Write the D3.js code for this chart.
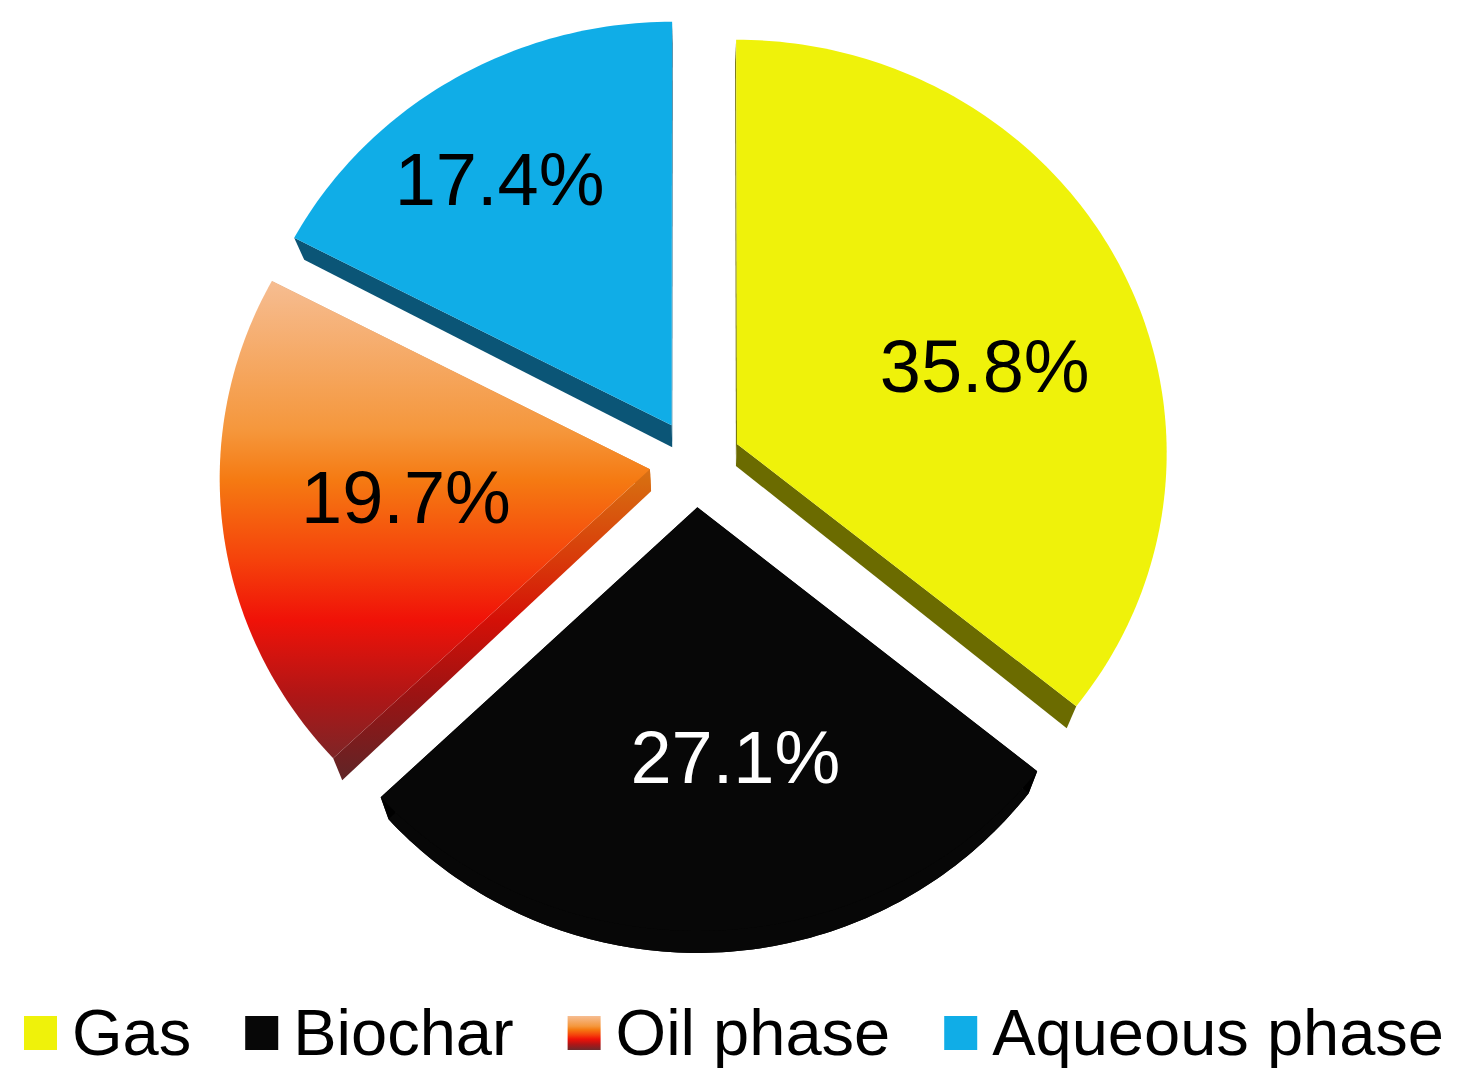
<!DOCTYPE html>
<html>
<head>
<meta charset="utf-8">
<script src="https://cdn.jsdelivr.net/npm/d3@7"></script>
<style>
  body { margin: 0; background: #fff; }
  svg { display: block; }
  text { font-family: "Liberation Sans", Arial, sans-serif; }
</style>
</head>
<body>
<div id="chart"></div>
<script>
// data
const categories = ["Gas", "Biochar", "Oil phase", "Aqueous phase"];
const shares = [35.8, 27.1, 19.7, 17.4];

// styles
const faceFill = ["#eff20a", "#070707", "url(#oilFace)", "#10ade7"];
const sideFill = ["#6b6b00", "#000000", "url(#oilSide)", "#0b5576"];
const showRim = [false, true, false, false];
const labelColor = ["#000", "#fff", "#000", "#000"];
// label placement: radius fraction, angle shift (deg) from slice middle
const labelPolar = [[0.61, 7.3], [0.60, -6], [0.57, 1.6], [0.73, -2.5]];
const oilStops = [
    [0.00, "#f6bd92"], [0.30, "#f5973c"], [0.40, "#f57a12"],
    [0.56, "#f5420b"], [0.68, "#f01208"], [0.83, "#b01616"], [1.00, "#6c2a2c"]
];

const W = 1464, H = 1091;
const cx = 695.5, cy = 463, R = 430;
const k = 0.961, p = 0.0203;          // tilt + slight perspective
const explode = 0.107, depth = 22, shrink = 0.025;

const svg = d3.select("#chart").append("svg")
    .attr("width", W).attr("height", H);

const defs = svg.append("defs");
const faceGrad = defs.append("linearGradient").attr("id", "oilFace")
    .attr("gradientUnits", "userSpaceOnUse")
    .attr("x1", 0).attr("y1", 280).attr("x2", 0).attr("y2", 780);
faceGrad.selectAll("stop").data(oilStops).join("stop")
    .attr("offset", d => d[0]).attr("stop-color", d => d[1]);
const sideGrad = defs.append("linearGradient").attr("id", "oilSide")
    .attr("gradientUnits", "userSpaceOnUse")
    .attr("x1", 0).attr("y1", 280).attr("x2", 0).attr("y2", 780);
sideGrad.selectAll("stop").data(oilStops).join("stop")
    .attr("offset", d => d[0]).attr("stop-color", d => d3.color(d[1]).darker(0.35));
const legGrad = defs.append("linearGradient").attr("id", "oilLegend")
    .attr("x1", 0).attr("y1", 0).attr("x2", 0).attr("y2", 1);
legGrad.selectAll("stop").data(oilStops).join("stop")
    .attr("offset", d => d[0]).attr("stop-color", d => d[1]);

// plane (unit disc) -> screen, t = 0 top face, t = 1 bottom face
function proj(X, Y, t = 0) {
    const w = 1 / (1 - p * Y);
    let x = cx + R * X * w;
    let y = cy + R * k * Y * w;
    x = cx + (x - cx) * (1 - shrink * t);
    y += depth * t;
    return [x, y];
}

const pie = d3.pie().sort(null).value(d => d);
const arcs = pie(shares);
const line = d3.line().curve(d3.curveLinearClosed);

const pieG = svg.append("g").attr("class", "pieG");

arcs.forEach((a, i) => {
    const mid = (a.startAngle + a.endAngle) / 2;
    const ex = explode * Math.sin(mid), ey = -explode * Math.cos(mid);
    const steps = Math.max(8, Math.ceil((a.endAngle - a.startAngle) * 180 / Math.PI));
    const angle = d3.scaleLinear().domain([0, steps]).range([a.startAngle, a.endAngle]);
    const angles = d3.range(steps + 1).map(angle);
    const pt = (ang, r, t) => proj(ex + r * Math.sin(ang), ey - r * Math.cos(ang), t);

    const face = t => [proj(ex, ey, t), ...angles.map(ang => pt(ang, 1, t))];
    const band = angles.map(ang => pt(ang, 1, 0))
        .concat(angles.slice().reverse().map(ang => pt(ang, 1, 1)));
    const quad = ang => [proj(ex, ey, 0), pt(ang, 1, 0), pt(ang, 1, 1), proj(ex, ey, 1)];

    const g = pieG.append("g").attr("class", "slice");
    if (showRim[i]) {
        g.append("path").attr("d", line(face(1))).attr("fill", faceFill[i]);
        g.append("path").attr("d", line(band)).attr("fill", faceFill[i]);
    }
    g.append("path").attr("d", line(quad(a.startAngle))).attr("fill", sideFill[i]);
    g.append("path").attr("d", line(quad(a.endAngle))).attr("fill", sideFill[i]);
    g.append("path").attr("d", line(face(0))).attr("fill", faceFill[i]);
});

// labels
const fmt = d3.format(".1f");
arcs.forEach((a, i) => {
    const mid = (a.startAngle + a.endAngle) / 2;
    const ex = explode * Math.sin(mid), ey = -explode * Math.cos(mid);
    const [lr, shift] = labelPolar[i];
    const ang = mid + shift * Math.PI / 180;
    const [x, y] = proj(ex + lr * Math.sin(ang), ey - lr * Math.cos(ang));
    svg.append("text")
        .attr("x", x).attr("y", y).attr("dy", "0.36em")
        .attr("text-anchor", "middle")
        .style("font-size", "74px")
        .attr("fill", labelColor[i])
        .text(fmt(a.data) + "%");
});

// legend
const legendFill = ["#eff20a", "#070707", "url(#oilLegend)", "#10ade7"];
let lx = 24;
categories.forEach((c, i) => {
    const g = svg.append("g").attr("class", "legendItem");
    g.append("rect").attr("x", lx).attr("y", 1016).attr("width", 33).attr("height", 34)
        .attr("fill", legendFill[i]);
    const t = g.append("text").attr("x", lx + 48).attr("y", 1055)
        .style("font-size", "65px").attr("fill", "#000").text(c);
    lx = lx + 48 + t.node().getComputedTextLength() + 54;
});
</script>
</body>
</html>
